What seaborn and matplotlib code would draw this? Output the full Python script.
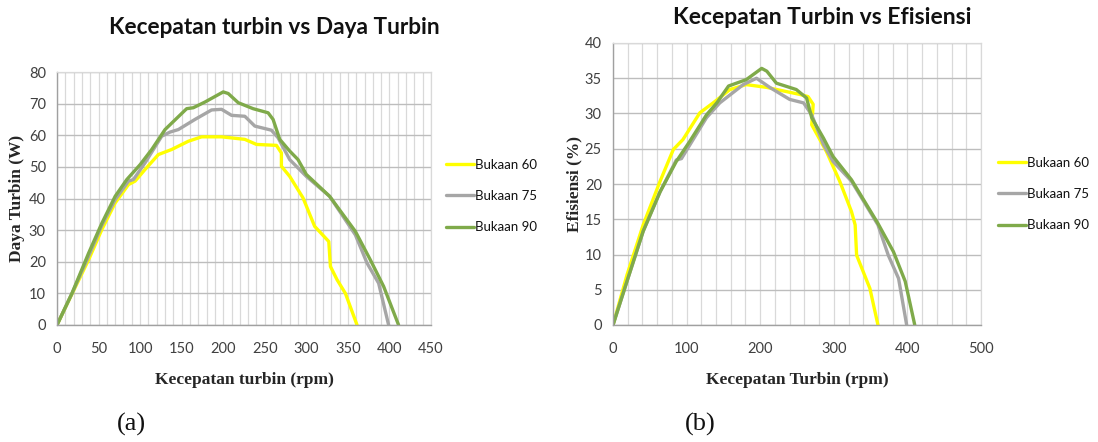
import numpy as np
import pandas as pd
import matplotlib
matplotlib.use("Agg")
import matplotlib.pyplot as plt
import seaborn as sns
from matplotlib.ticker import MultipleLocator
from matplotlib.lines import Line2D

# ---------------- data ----------------
series_names = ["Bukaan 60", "Bukaan 75", "Bukaan 90"]

# (a) Kecepatan turbin vs Daya Turbin
p60_rpm = [0, 18, 38, 54, 70, 86, 94, 106, 122, 138, 158, 174, 198, 226, 240, 264, 270, 270, 280, 296, 310, 327, 329, 337, 347, 361]
p60_val = [0, 9.8, 20.6, 30.2, 38.6, 44.4, 45.5, 49.2, 53.9, 55.5, 58.1, 59.5, 59.5, 58.7, 57.1, 56.8, 54.4, 50.2, 47, 40.2, 31.2, 26.4, 18.5, 14.3, 10, 0]

p75_rpm = [0, 18, 38, 54, 70, 86, 92, 106, 126, 136, 146, 166, 186, 198, 210, 226, 238, 258, 266, 280, 300, 328, 359, 373, 387, 399]
p75_val = [0, 10, 21.7, 31.5, 39.6, 45.5, 46, 51.3, 59.7, 61, 61.8, 65, 68, 68.2, 66.3, 66, 62.9, 61.6, 59.2, 52.3, 47, 40.7, 28.5, 19.6, 13.2, 0]

p90_rpm = [0, 18, 38, 54, 70, 84, 100, 114, 130, 156, 164, 178, 200, 206, 218, 236, 254, 260, 268, 280, 290, 300, 328, 359, 377, 393, 411]
p90_val = [0, 10, 22.7, 32.2, 40.7, 46, 50.7, 55.5, 61.8, 68.4, 68.7, 70.5, 73.7, 73.2, 70.3, 68.4, 67.1, 65, 58.7, 55, 52.3, 47.6, 40.7, 29.6, 20.6, 12.2, 0]

# (b) Kecepatan Turbin vs Efisiensi
e60_rpm = [0, 19, 41, 64, 82, 95, 118, 136, 159, 181, 209, 236, 254, 265, 272, 270, 290, 308, 324, 329, 331, 349, 360]
e60_val = [0, 7.1, 14.2, 20.4, 24.9, 26.3, 30.1, 31.5, 33.4, 34.1, 33.7, 33.1, 32.7, 32.4, 31.3, 28.4, 24.6, 20.4, 16.1, 14.2, 9.9, 5.2, 0]

e75_rpm = [0, 19, 41, 64, 86, 93, 127, 145, 177, 195, 213, 240, 259, 270, 286, 299, 324, 360, 374, 388, 399]
e75_val = [0, 6.2, 13.3, 18.9, 23.4, 23.6, 29.4, 31.5, 34.1, 35, 33.7, 32, 31.5, 29.8, 25.6, 23.2, 20.4, 14.2, 9.9, 6.6, 0]

e90_rpm = [0, 19, 41, 64, 86, 104, 127, 141, 157, 181, 202, 209, 222, 249, 263, 270, 286, 299, 324, 360, 381, 397, 410]
e90_val = [0, 6.2, 13.3, 18.9, 23.2, 26, 29.8, 31.5, 33.9, 34.8, 36.4, 36, 34.3, 33.4, 32.2, 29.4, 26.5, 23.9, 20.6, 14.4, 10.4, 6.2, 0]

# axis ticks
a_xticks = [0, 50, 100, 150, 200, 250, 300, 350, 400, 450]
a_yticks = [0, 10, 20, 30, 40, 50, 60, 70, 80]
b_xticks = [0, 100, 200, 300, 400, 500]
b_yticks = [0, 5, 10, 15, 20, 25, 30, 35, 40]


def long_df(rpms, vals):
    frames = []
    for name, r, v in zip(series_names, rpms, vals):
        frames.append(pd.DataFrame({"rpm": r, "val": v, "seri": name}))
    return pd.concat(frames, ignore_index=True)


df_a = long_df([p60_rpm, p75_rpm, p90_rpm], [p60_val, p75_val, p90_val])
df_b = long_df([e60_rpm, e75_rpm, e90_rpm], [e60_val, e75_val, e90_val])

# ---------------- style ----------------
sns.set_theme(style="white")
plt.rcParams["font.family"] = ["Lato", "DejaVu Sans"]

palette = {"Bukaan 60": "#FFFF00", "Bukaan 75": "#A6A6A6", "Bukaan 90": "#7FAA4A"}
serif = ["Liberation Serif", "DejaVu Serif"]

fig = plt.figure(figsize=(10.98, 4.42), dpi=100)
ax_a = fig.add_axes([57 / 1098, 1 - 325 / 442, 374 / 1098, 253 / 442])
ax_b = fig.add_axes([613 / 1098, 1 - 325 / 442, 368 / 1098, 282 / 442])


def style_axes(ax, xticks, yticks, xminor):
    ax.set_xlim(xticks[0], xticks[-1])
    ax.set_ylim(yticks[0], yticks[-1])
    ax.set_xticks(xticks)
    ax.set_yticks(yticks)
    ax.xaxis.set_minor_locator(MultipleLocator(xminor))
    ax.grid(True, which="major", axis="y", color="#BDBDBD", lw=1.0)
    ax.grid(True, which="both", axis="x", color="#D9D9D9", lw=0.9)
    ax.set_axisbelow(True)
    for s in ["left", "bottom"]:
        ax.spines[s].set_color("#A0A0A0")
        ax.spines[s].set_linewidth(1.0)
    for s in ["top", "right"]:
        ax.spines[s].set_color("#D9D9D9")
        ax.spines[s].set_linewidth(0.9)
    ax.tick_params(axis="both", which="major", labelsize=10.5, colors="#404040",
                   length=4, width=0.8, direction="out", pad=4)
    ax.tick_params(axis="x", which="major", color="#A0A0A0", pad=8)
    ax.tick_params(axis="y", which="major", color="#A0A0A0")
    ax.tick_params(axis="x", which="minor", length=0)


for ax, df, xt, yt, xm in [(ax_a, df_a, a_xticks, a_yticks, 10), (ax_b, df_b, b_xticks, b_yticks, 20)]:
    sns.lineplot(data=df, x="rpm", y="val", hue="seri", palette=palette, sort=False,
                 estimator=None, units="seri", lw=2.4, ax=ax, legend=False)
    for ln in ax.get_lines():
        ln.set_solid_joinstyle("round")
        ln.set_solid_capstyle("round")
    style_axes(ax, xt, yt, xm)

ax_a.set_xlabel("Kecepatan turbin (rpm)", family=serif, fontweight="bold", fontsize=12.5, labelpad=12)
ax_a.set_ylabel("Daya Turbin (W)", family=serif, fontweight="bold", fontsize=12.5, labelpad=3)
ax_b.set_xlabel("Kecepatan Turbin (rpm)", family=serif, fontweight="bold", fontsize=12.5, labelpad=12)
ax_b.set_ylabel("Efisiensi (%)", family=serif, fontweight="bold", fontsize=12.5, labelpad=2)

fig.text(274 / 1098, 1 - 27 / 442, "Kecepatan turbin vs Daya Turbin", ha="center", va="center",
         fontsize=16.3, fontweight="bold", color="#111111")
fig.text(822 / 1098, 1 - 18 / 442, "Kecepatan Turbin vs Efisiensi", ha="center", va="center",
         fontsize=16.5, fontweight="bold", color="#111111")

handles = [Line2D([], [], color=palette[n], lw=2.4) for n in series_names]
for ax, x0, y0 in [(ax_a, 446 / 1098, 1 - 196 / 442), (ax_b, 998 / 1098, 1 - 194 / 442)]:
    leg = ax.legend(handles, series_names, loc="center left", bbox_to_anchor=(x0, y0),
                    bbox_transform=fig.transFigure, frameon=False, fontsize=9.5,
                    handlelength=2.1, handletextpad=0.1, labelspacing=1.45, borderpad=0,
                    borderaxespad=0)
    for t in leg.get_texts():
        t.set_color("#111111")

fig.text(131 / 1098, 1 - 424 / 442, "(a)", ha="center", va="center", family=serif, fontsize=19, color="#111111")
fig.text(700 / 1098, 1 - 424 / 442, "(b)", ha="center", va="center", family=serif, fontsize=19, color="#111111")

fig.savefig("out.png", dpi=100, facecolor="white")
